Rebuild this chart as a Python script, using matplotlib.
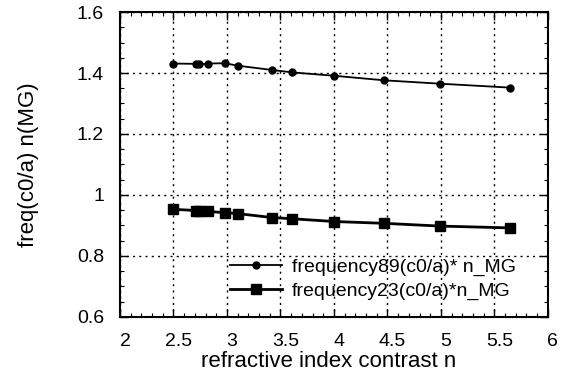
import matplotlib
matplotlib.use("Agg")
import matplotlib.pyplot as plt
import matplotlib.transforms as mtransforms
from matplotlib.ticker import MultipleLocator

plt.rcParams['font.family'] = ['Liberation Sans', 'DejaVu Sans']

# refractive index contrast
n = [2.5, 2.71, 2.74, 2.82, 2.98, 3.10, 3.42, 3.61, 4.0, 4.47, 4.99, 5.65]
# normalised frequencies times n_MG
freq89 = [1.431, 1.430, 1.428, 1.431, 1.432, 1.424, 1.410, 1.402, 1.391, 1.376, 1.365, 1.352]
freq23 = [0.953, 0.949, 0.948, 0.946, 0.942, 0.939, 0.926, 0.922, 0.913, 0.907, 0.898, 0.892]

xticks = [2, 2.5, 3, 3.5, 4, 4.5, 5, 5.5, 6]
xlabels = ['2', '2.5', '3', '3.5', '4', '4.5', '5', '5.5', '6']
yticks = [0.6, 0.8, 1.0, 1.2, 1.4, 1.6]
ylabels = ['0.6', '0.8', '1', '1.2', '1.4', '1.6']

fig = plt.figure(figsize=(5.72, 3.72), dpi=100)
ax = fig.add_axes([0.2098, 0.148, 0.748, 0.8197])

ax.plot(n, freq89, '-o', color='black', lw=1.3, ms=5, label='frequency89(c0/a)* n_MG')
ax.plot(n, freq23, '-s', color='black', lw=2.0, ms=7.5, label='frequency23(c0/a)*n_MG')

ax.set_xticks(xticks, xlabels)
ax.set_yticks(yticks, ylabels)
ax.xaxis.set_minor_locator(MultipleLocator(0.1))
ax.yaxis.set_minor_locator(MultipleLocator(0.05))
ax.set_xlim(2, 6)
ax.set_ylim(0.6, 1.6)
ax.tick_params(which='both', direction='in', top=True, right=True, labelsize=14)
ax.tick_params(which='major', length=6, width=1)
ax.tick_params(which='minor', length=3, width=0.8)
ax.tick_params(axis='x', pad=11.5)
ax.tick_params(axis='y', pad=11.5)
for s in ax.spines.values():
    s.set_linewidth(1.5)

# x tick labels sit a little right of their ticks
shift = mtransforms.ScaledTranslation(0.05, 0, fig.dpi_scale_trans)
for lbl in ax.get_xticklabels():
    lbl.set_transform(lbl.get_transform() + shift)

ax.grid(True, which='major', color='black', linestyle=(0, (1.5, 3)), lw=1)

ax.set_xlabel('refractive index contrast n', fontsize=16, labelpad=1)
ax.xaxis.label.set_x(0.488)
ax.set_ylabel('freq(c0/a) n(MG)', fontsize=16, labelpad=27)

ax.legend(loc='center left', bbox_to_anchor=(0.257, 0.125), frameon=False,
          fontsize=14, handlelength=2.7, handletextpad=0.5, borderpad=0,
          borderaxespad=0, labelspacing=0.3)

fig.savefig('out.png', dpi=100)
